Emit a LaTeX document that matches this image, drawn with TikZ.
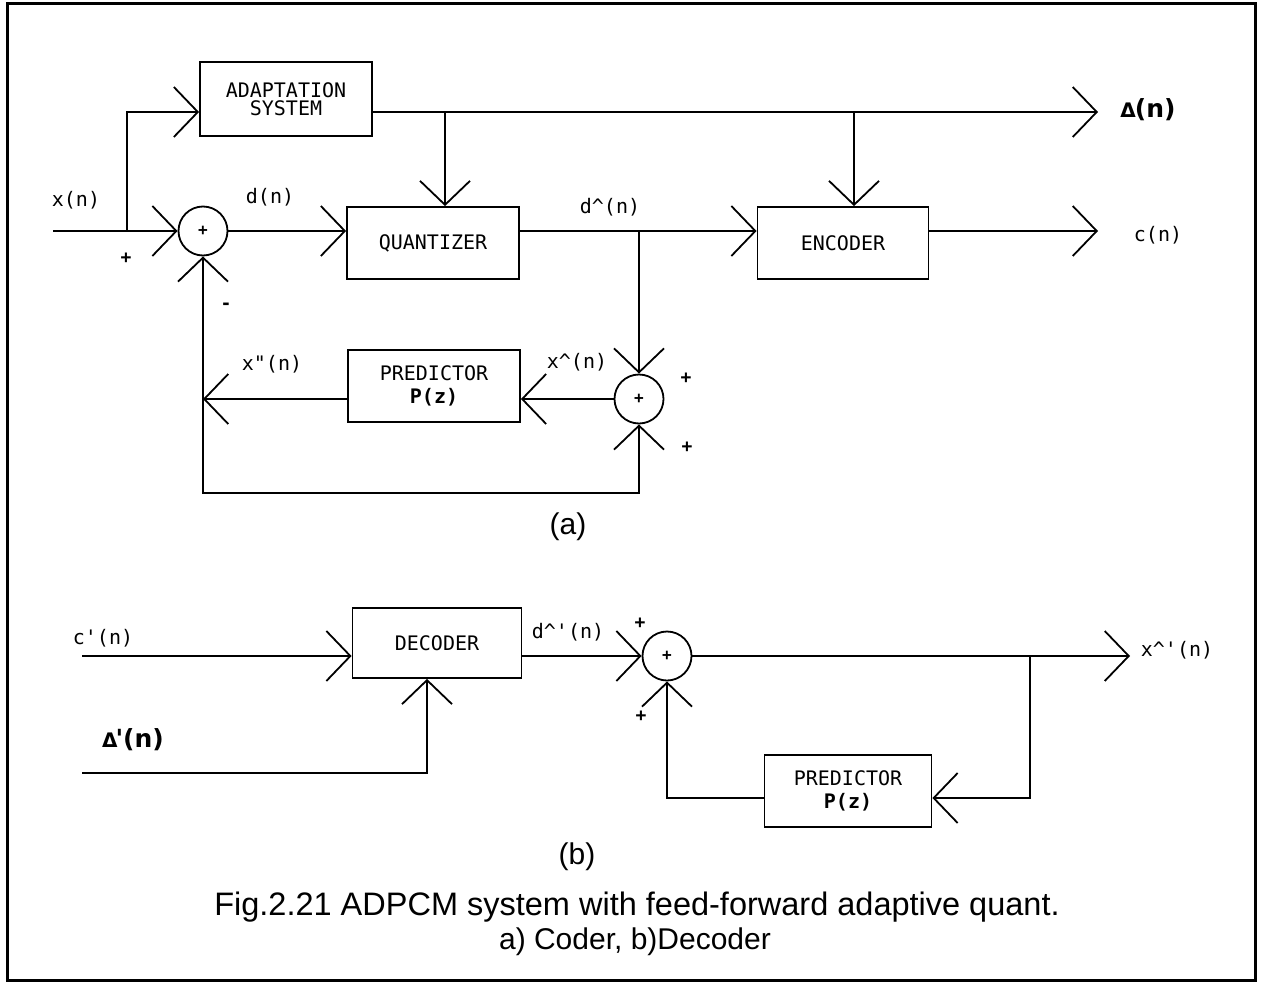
\documentclass[tikz,border=0pt]{standalone}
\usepackage{fontspec}
\setmainfont{Liberation Sans}
\newfontfamily\mono{DejaVu Sans Mono}[Ligatures=TeXOff]
\newfontfamily\dejab{DejaVu Sans}
\usetikzlibrary{arrows.meta}
\begin{document}
\begin{tikzpicture}[x=1pt,y=-1pt,
  ln/.style={line width=1.8pt},
  arr/.style={ln,-{Straight Barb[length=24pt,width=50pt]}},
  blk/.style={draw,ln,rectangle,inner sep=0pt,align=center,
    font=\mono\fontsize{20}{21}\selectfont},
  sumc/.style={draw,ln,circle,minimum size=49pt,inner sep=0pt,
    font=\mono\bfseries\fontsize{16}{16}\selectfont},
  lab/.style={inner sep=0pt,font=\mono\fontsize{20}{20}\selectfont},
  sgn/.style={inner sep=0pt,font=\mono\bfseries\fontsize{18}{18}\selectfont},
  dl/.style={inner sep=0pt,font=\dejab\bfseries\fontsize{25}{25}\selectfont},
  captxt/.style={inner sep=0pt,font=\fontsize{30}{30}\selectfont}]
\useasboundingbox (0,0) rectangle (1263,985);
\draw[line width=3pt] (7,3) rectangle (1255,980);

% ---------- coder (a) ----------
\node[blk,minimum width=172pt,minimum height=74pt] (adapt) at (286,99)
  {ADAPTATION\\[-3pt]SYSTEM};
\node[blk,minimum width=172pt,minimum height=72pt] (quant) at (433,243) {QUANTIZER};
\node[blk,minimum width=171pt,minimum height=72pt] (enc) at (843,243) {ENCODER};
\node[blk,minimum width=172pt,minimum height=72pt] (pred1) at (434,386)
  {PREDICTOR\\[2pt]{\bfseries P(z)}};
\node[sumc] (s1) at (203,231) {+};
\node[sumc] (s2) at (639,399) {+};

\coordinate (xin) at (53,231);
\coordinate (xbr) at (127,231);
\coordinate (tt) at (0,112);
\coordinate (qb) at (445,112);
\coordinate (eb) at (854,112);
\coordinate (dout) at (1098,112);
\coordinate (cout) at (1098,231);
\coordinate (dbr) at (639,231);
\coordinate (fb) at (203,399);
\coordinate (lb) at (203,493);
\coordinate (rb) at (639,493);

\draw[arr] (xin) -- (s1.west);
\draw[arr] (xbr) |- (adapt.west |- tt);
\draw[ln] (adapt.east |- tt) -- (qb);
\draw[arr] (qb) -- (eb) -- (dout);
\draw[arr] (qb) -- (qb |- quant.north);
\draw[arr] (eb) -- (eb |- enc.north);
\draw[arr] (s1.east) -- (quant.west |- s1);
\draw[ln] (quant.east |- s1) -- (dbr);
\draw[arr] (dbr) -- (enc.west |- s1);
\draw[arr] (enc.east |- s1) -- (cout);
\draw[arr] (dbr) -- (s2.north);
\draw[arr] (s2.west) -- (pred1.east |- s2);
\draw[arr] (pred1.west |- s2) -- (fb);
\draw[arr] (fb) -- (s1.south);
\draw[arr] (fb) -- (lb) -- (rb) -- (s2.south);

\node[lab] (lx) at (76,200) {x(n)};
\node[sgn] (p1) at (126,258) {+};
\node[sgn] (m1) at (226,306) {-};
\node[lab] (ld) at (270,197) {d(n)};
\node[lab] (ldh) at (610,207) {d\textasciicircum(n)};
\node[dl] (lD) at (1148,110) {{\fontsize{20}{20}\selectfont Δ}\hspace{-1pt}(n)};
\node[lab] (lc) at (1158,235) {c(n)};
\node[lab] (lxt) at (272,364) {x"(n)};
\node[lab] (lxh) at (577,362) {x\textasciicircum(n)};
\node[sgn] (p2) at (686,378) {+};
\node[sgn] (p3) at (687,447) {+};
\node[captxt] (la) at (568,527) {(a)};

% ---------- decoder (b) ----------
\node[blk,minimum width=169pt,minimum height=70pt] (dec) at (437,643) {DECODER};
\node[blk,minimum width=167pt,minimum height=72pt] (pred2) at (848,791)
  {PREDICTOR\\[2pt]{\bfseries P(z)}};
\node[sumc] (s3) at (667,656) {+};

\coordinate (cin) at (82,656);
\coordinate (din) at (82,773);
\coordinate (dup) at (427,773);
\coordinate (xout) at (1130,656);
\coordinate (obr) at (1030,656);
\coordinate (obl) at (1030,798);
\coordinate (ill) at (667,798);

\draw[arr] (cin) -- (dec.west |- cin);
\draw[arr] (din) -- (dup) -- (dup |- dec.south);
\draw[arr] (dec.east |- s3) -- (s3.west);
\draw[arr] (s3.east) -- (xout);
\draw[arr] (obr) -- (obl) -- (pred2.east |- obl);
\draw[arr] (pred2.west |- obl) -- (ill) -- (s3.south);

\node[lab] (lcp) at (103,638) {c'(n)};
\node[dl] (lDp) at (133,740) {{\fontsize{20}{20}\selectfont Δ}\hspace{-2pt}'(n)};
\node[lab] (ldp) at (568,632) {d\textasciicircum'(n)};
\node[sgn] (p4) at (640,623) {+};
\node[sgn] (p5) at (641,716) {+};
\node[lab] (lxp) at (1177,650) {x\textasciicircum'(n)};
\node[captxt] (lb2) at (577,857) {(b)};

\node[captxt,font=\fontsize{32.5}{32}\selectfont] (c1) at (637,907) {Fig.2.21 ADPCM system with feed-forward adaptive quant.};
\node[captxt,font=\fontsize{30}{30}\selectfont] (c2) at (635,942) {a) Coder, b)Decoder};
\end{tikzpicture}
\end{document}
